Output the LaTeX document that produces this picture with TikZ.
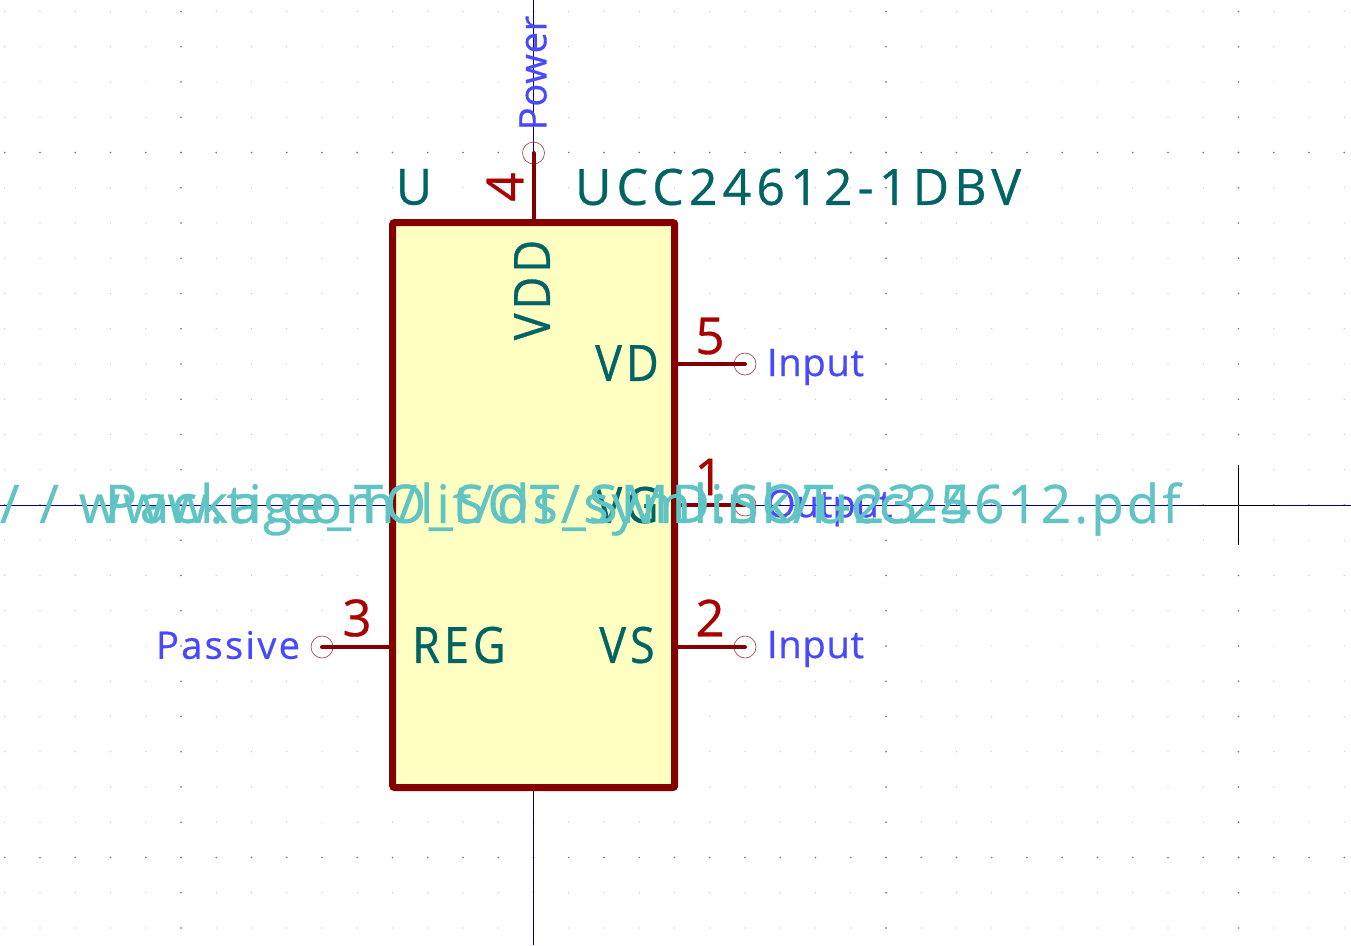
\documentclass[tikz,border=0pt]{standalone}
\usepackage{fontspec}
\setmainfont{Open Sans}
\usepackage{tikz}
\definecolor{pinred}{HTML}{840000}
\definecolor{numred}{HTML}{A90000}
\definecolor{bodyfill}{HTML}{FFFFC2}
\definecolor{nameteal}{HTML}{006464}
\definecolor{typeblue}{HTML}{4848FF}
\definecolor{fieldcyan}{HTML}{60C3C4}
\definecolor{axisnavy}{HTML}{000080}
\newcommand{\sizedfont}[3]{\fontsize{#1}{#1}\selectfont\addfontfeature{LetterSpace=#2,FakeStretch=#3,FakeBold=.6}}
\tikzset{
  txt/.style={inner sep=0pt,outer sep=0pt},
  refname/.style={txt,text=nameteal,font=\sizedfont{50}{10.3}{1}},
  pinname/.style={txt,text=nameteal,font=\sizedfont{50}{8}{.9}},
  pinnum/.style={txt,text=numred,font=\sizedfont{51}{0}{1}},
  pintype/.style={txt,text=typeblue,font=\sizedfont{38}{#1}{1}},
  pintype/.default=2,
  field/.style={txt,text=fieldcyan,font=\sizedfont{53}{#1}{1}},
  pinline/.style={draw=pinred,line width=4pt,line cap=round},
  pinend/.style={circle,draw=pinred!70,line width=.7pt,minimum size=22pt,inner sep=0pt},
}
\begin{document}
\begin{tikzpicture}[x=1pt,y=-1pt]
  \useasboundingbox (0,0) rectangle (1351,945);
  % grid
  \foreach \i in {-15,...,23}
    \foreach \j in {-14,...,12}
      \fill[black!25] ({533.5+35.25*\i},{505+35.25*\j}) circle (.6pt);
  \foreach \i in {-15,...,23}
    \foreach \j in {-1,0,1}
      \fill[black!55] ({533.5+35.25*\i},{505+352.5*\j}) circle (.8pt);
  \foreach \i in {-1,0,1,2}
    \foreach \j in {-14,...,12}
      \fill[black!55] ({533.5+352.5*\i},{505+35.25*\j}) circle (.8pt);
  % axes
  \coordinate (xa) at (0,505);
  \coordinate (xb) at (1351,505);
  \coordinate (ya) at (533.5,0);
  \coordinate (yb) at (533.5,945);
  \coordinate (ca) at (1238.5,465);
  \coordinate (cb) at (1238.5,545);
  \coordinate (cc) at (1198,505);
  \coordinate (cd) at (1278,505);
  \draw[axisnavy,line width=1pt] (xa) -- (xb);
  \draw[axisnavy,line width=1pt] (ya) -- (yb);
  \draw[black,line width=1pt] (ca) -- (cb);
  \draw[black,line width=1pt] (cc) -- (cd);
  % body
  \node (body) at (533.7,505) [draw=pinred,fill=bodyfill,line width=7pt,rounded corners=2pt,minimum width=282pt,minimum height=565pt,inner sep=0pt] {};
  % pin ends
  \node (p4) at (533.5,153) [pinend] {};
  \node (p5) at (745,364) [pinend] {};
  \node (p1) at (745,505) [pinend] {};
  \node (p2) at (745,647) [pinend] {};
  \node (p3) at (322,647) [pinend] {};
  \coordinate (b4) at (533.5,223);
  \coordinate (b5) at (675,364);
  \coordinate (b1) at (675,505);
  \coordinate (b2) at (675,647);
  \coordinate (b3) at (393,647);
  \foreach \from/\to in {b4/p4.center,b5/p5.center,b1/p1.center,b2/p2.center,b3/p3.center}
    \draw[pinline] (\from) -- (\to);
  % pin numbers
  \node (n4) at (505,187) [pinnum,rotate=90] {4};
  \node (n5) at (710,336) [pinnum] {5};
  \node (n1) at (709,477) [pinnum] {1};
  \node (n2) at (710,618) [pinnum] {2};
  \node (n3) at (357,618) [pinnum] {3};
  % pin names
  \node (vdd) at (532,290) [pinname,rotate=90] {VDD};
  \node (vd) at (627,363) [pinname] {VD};
  \node (vg) at (627,505) [pinname] {VG};
  \node (vs) at (627,645) [pinname] {VS};
  \node (reg) at (459,645) [pinname] {REG};
  % pin types
  \node (t4) at (533,73) [pintype,rotate=90] {Power};
  \node (t5) at (767,367) [pintype,anchor=west] {Input};
  \node (t1) at (766,508) [pintype=0,anchor=west] {Output};
  \node (t2) at (767,649) [pintype,anchor=west] {Input};
  \node (t3) at (300,645) [pintype=6,anchor=east] {Passive};
  % fields
  \node (ref) at (414,187) [refname] {U};
  \node (val) at (575,187) [refname,anchor=west] {UCC24612-1DBV};
  \node (pkg) at (105,509) [field=5.3,anchor=west] {Package\_TO\_SOT\_SMD:SOT-23-5};
  \node (doc) at (0,509) [field=5.7,anchor=west] {/\kern20pt/\kern20pt www.ti.com/lit/ds/symlink/ucc24612.pdf};
\end{tikzpicture}
\end{document}
